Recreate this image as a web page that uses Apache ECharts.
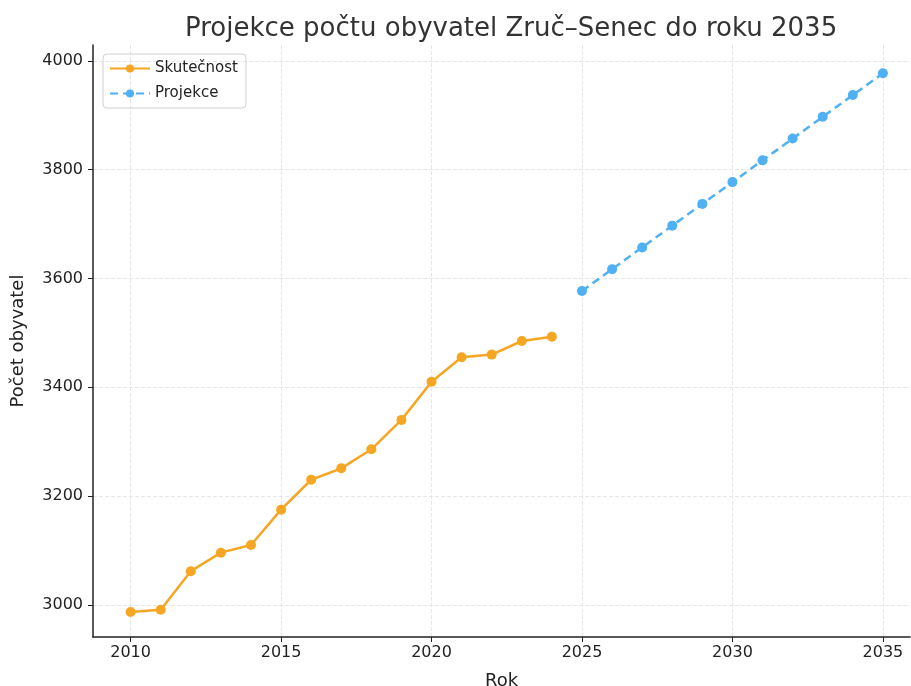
<!DOCTYPE html>
<html>
<head>
<meta charset="utf-8">
<script src="https://cdn.jsdelivr.net/npm/echarts@6/dist/echarts.min.js"></script>
<style>
  html, body { margin: 0; padding: 0; background: #fff; }
  #chart { width: 911px; height: 686px; }
</style>
</head>
<body>
<div id="chart"></div>
<script>
// skutečné hodnoty
const actualYears = [2010, 2011, 2012, 2013, 2014, 2015, 2016, 2017, 2018, 2019, 2020, 2021, 2022, 2023, 2024]
const actualValues = [2987, 2991, 3062, 3096, 3110, 3175, 3230, 3251, 3286, 3340, 3410, 3455, 3460, 3485, 3493]

// projekce
const projYears = [2025, 2026, 2027, 2028, 2029, 2030, 2031, 2032, 2033, 2034, 2035]
const projValues = [3577, 3617, 3657, 3697, 3737, 3777, 3817, 3857, 3897, 3937, 3977]

const orange = '#f5a623'
const blue = '#4fb0f3'
const font = 'DejaVu Sans'

const toPairs = (xs, ys) => xs.map((x, i) => [x, ys[i]])

const myChart = echarts.init(document.getElementById('chart'), null, { renderer: 'canvas' })

myChart.setOption({
  animation: false,
  textStyle: { fontFamily: font },
  title: {
    text: 'Projekce počtu obyvatel Zruč–Senec do roku 2035',
    left: 180,
    top: 11,
    textStyle: { fontFamily: font, fontSize: 26, fontWeight: 'normal', color: '#333' }
  },
  grid: { left: 93, right: 1, top: 45, bottom: 49, containLabel: false, outerBoundsMode: 'none' },
  legend: {
    orient: 'vertical',
    left: 103,
    top: 54,
    padding: [7, 8, 7, 6],
    itemGap: 10,
    itemWidth: 40,
    itemHeight: 10,
    borderColor: '#d0d0d0',
    borderWidth: 1,
    borderRadius: 4,
    textStyle: { fontFamily: font, fontSize: 15, color: '#222' },
    data: ['Skutečnost', 'Projekce']
  },
  xAxis: {
    type: 'value',
    min: 2008.75,
    max: 2035.9,
    name: 'Rok',
    nameLocation: 'middle',
    nameGap: 35,
    nameTextStyle: { fontFamily: font, fontSize: 18, color: '#222' },
    axisLine: { show: true, onZero: false, lineStyle: { color: '#222', width: 1.5 } },
    axisTick: { show: true, length: 5, inside: false, lineStyle: { color: '#222' } },
    axisLabel: {
      fontFamily: font, fontSize: 16, color: '#222', margin: 8,
      showMinLabel: false, showMaxLabel: false,
      formatter: v => String(Math.round(v))
    },
    splitLine: { show: true, showMinLine: false, showMaxLine: false, lineStyle: { color: '#e6e6e6', type: 'dashed' } }
  },
  yAxis: {
    type: 'value',
    min: 2941,
    max: 4029,
    name: 'Počet obyvatel',
    nameLocation: 'middle',
    nameGap: 66,
    nameTextStyle: { fontFamily: font, fontSize: 18, color: '#222' },
    axisLine: { show: true, lineStyle: { color: '#222', width: 1.5 } },
    axisTick: { show: true, length: 5, lineStyle: { color: '#222' } },
    axisLabel: {
      fontFamily: font, fontSize: 16, color: '#222', margin: 10,
      showMinLabel: false, showMaxLabel: false,
      formatter: v => String(Math.round(v))
    },
    splitLine: { show: true, showMinLine: false, showMaxLine: false, lineStyle: { color: '#e6e6e6', type: 'dashed' } }
  },
  series: [
    {
      name: 'Skutečnost',
      type: 'line',
      data: toPairs(actualYears, actualValues),
      symbol: 'circle',
      symbolSize: 10,
      color: orange,
      lineStyle: { color: orange, width: 2.5 },
      itemStyle: { color: orange }
    },
    {
      name: 'Projekce',
      type: 'line',
      data: toPairs(projYears, projValues),
      symbol: 'circle',
      symbolSize: 10,
      color: blue,
      lineStyle: { color: blue, width: 2.5, type: [8, 5] },
      itemStyle: { color: blue }
    }
  ]
})
</script>
</body>
</html>
